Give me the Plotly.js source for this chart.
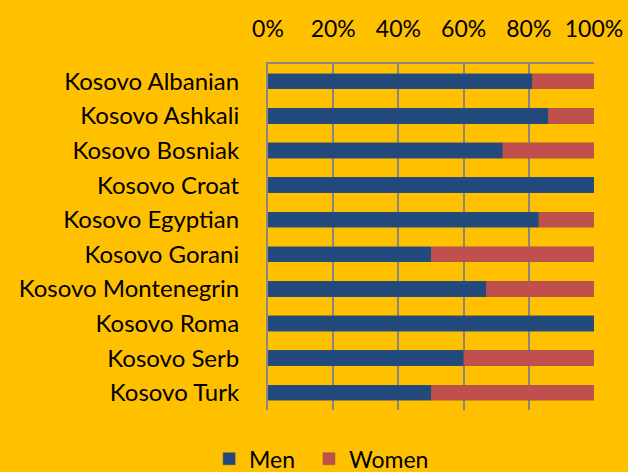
<!DOCTYPE html>
<html>
<head>
<meta charset="utf-8">
<script src="https://cdn.plot.ly/plotly-3.0.1.min.js"></script>
<style>html,body{margin:0;padding:0;background:#FFC000;}#chart{width:628px;height:472px;}</style>
</head>
<body>
<div id="chart"></div>
<script>
const categories = ["Kosovo Albanian","Kosovo Ashkali","Kosovo Bosniak","Kosovo Croat","Kosovo Egyptian","Kosovo Gorani","Kosovo Montenegrin","Kosovo Roma","Kosovo Serb","Kosovo Turk"];
const men = [81, 86, 72, 100, 83, 50, 67, 100, 60, 50];
const women = [19, 14, 28, 0, 17, 50, 33, 0, 40, 50];
const tickVals = [0, 20, 40, 60, 80, 100];
const tickText = ["0%", "20%", "40%", "60%", "80%", "100%"];

const font = {family: "Lato, 'Open Sans', sans-serif", size: 23, color: "#000"};

const data = [
  {type: "bar", orientation: "h", name: "Men", y: categories, x: men, legend: "legend",
   marker: {color: "#224A7C", line: {color: "#3a4f6a", width: 0.5}}, width: 0.44},
  {type: "bar", orientation: "h", name: "Women", y: categories, x: women, legend: "legend2",
   marker: {color: "#C0504D", line: {color: "#9a5a40", width: 0.5}}, width: 0.44}
];

const legendBase = {orientation: "h", xref: "container", yref: "container", xanchor: "left",
  y: 0.028, yanchor: "middle", font: font, itemwidth: 30, bgcolor: "rgba(0,0,0,0)"};

const layout = {
  width: 628, height: 472,
  barmode: "stack",
  paper_bgcolor: "#FFC000", plot_bgcolor: "#FFC000",
  margin: {l: 268, r: 34, t: 64, b: 62},
  font: font,
  showlegend: true,
  legend: Object.assign({}, legendBase, {x: 0.333}),
  legend2: Object.assign({}, legendBase, {x: 0.492}),
  xaxis: {side: "top", range: [0, 100], tickvals: tickVals, ticktext: tickText,
          showgrid: true, gridcolor: "#878787", gridwidth: 2,
          showline: true, linecolor: "#878787", linewidth: 2, mirror: false,
          zeroline: false, ticks: "", ticklabelstandoff: 16, fixedrange: true},
  yaxis: {type: "category", autorange: "reversed", showgrid: false,
          showline: true, linecolor: "#878787", linewidth: 2,
          tickfont: {family: font.family, size: 24, color: "#000"},
          ticks: "", ticklabelstandoff: 22, zeroline: false, fixedrange: true}
};

Plotly.newPlot("chart", data, layout, {displayModeBar: false, staticPlot: true});
</script>
</body>
</html>
